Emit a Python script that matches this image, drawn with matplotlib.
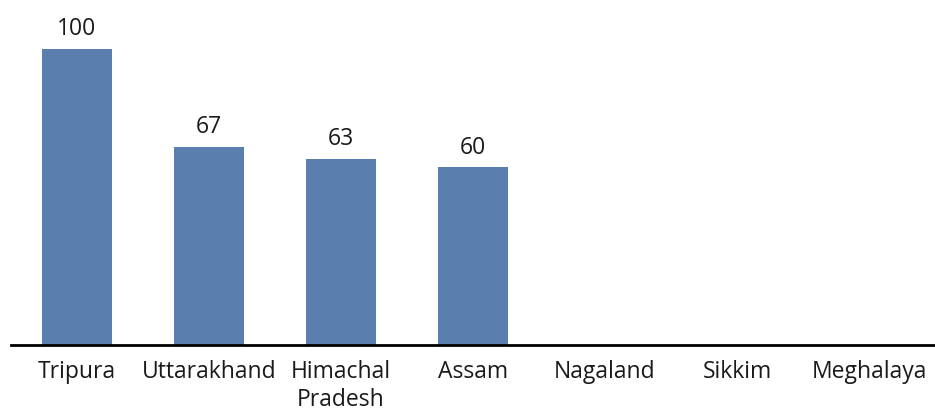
import matplotlib
matplotlib.use("Agg")
import matplotlib.pyplot as plt

categories = ["Tripura", "Uttarakhand", "Himachal\nPradesh", "Assam", "Nagaland", "Sikkim", "Meghalaya"]
values = [100, 67, 63, 60, 0, 0, 0]

plt.rcParams['font.family'] = ['Open Sans', 'DejaVu Sans']

fig = plt.figure(figsize=(9.35, 4.14), dpi=100)
ax = fig.add_axes([11/935, 68/414, 1 - 11/935, 346/414])
x = list(range(len(categories)))
bars = ax.bar(x, values, width=0.53, color='#5a7fae', zorder=2)
for xi, v in zip(x, values):
    if v > 0:
        ax.text(xi, v + 3, f"{v}", ha='center', va='bottom', fontsize=16.5, color='#1a1a1a')
ax.set_xlim(-0.5, len(categories) - 0.5)
ax.set_ylim(0, 346 / 2.96)
ax.set_xticks(x)
ax.set_xticklabels(categories, fontsize=16.5, color='#1a1a1a', linespacing=1.25)
ax.tick_params(axis='x', length=0, pad=10)
ax.set_yticks([])
for s in ['top', 'right', 'left']:
    ax.spines[s].set_visible(False)
ax.spines['bottom'].set_linewidth(2)
ax.spines['bottom'].set_color('#000000')
fig.savefig("out.png", dpi=100)
